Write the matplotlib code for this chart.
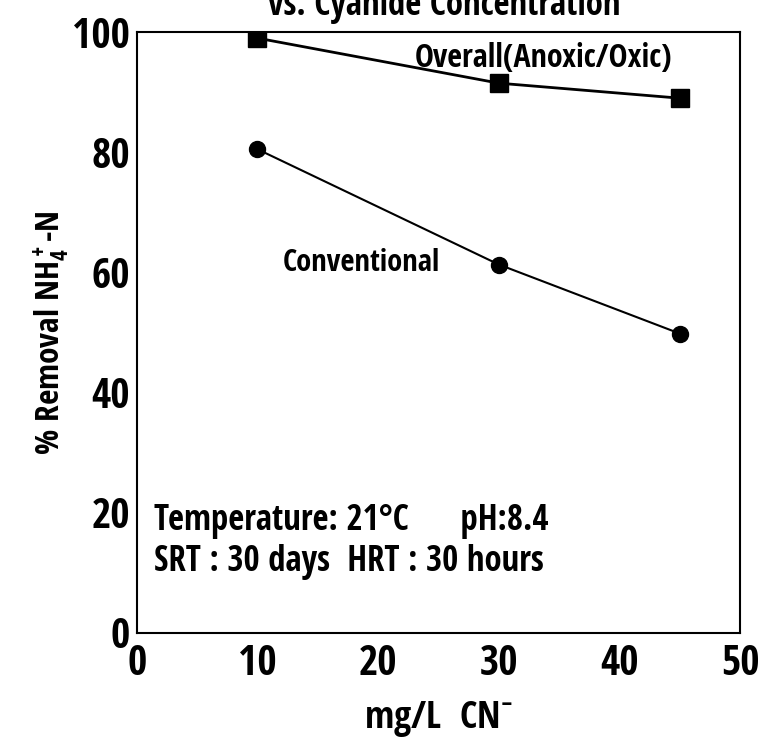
import matplotlib
matplotlib.use("Agg")
import matplotlib.pyplot as plt

# Daten
cn_conc = [10, 30, 45]
overall_removal = [99.0, 91.5, 89.0]        # Overall (Anoxic/Oxic)
conventional_removal = [80.5, 61.3, 49.8]   # Conventional
x_ticks = [0, 10, 20, 30, 40, 50]
y_ticks = [0, 20, 40, 60, 80, 100]

font = "Open Sans Condensed"
plt.rcParams["font.family"] = [font, "DejaVu Sans"]
plt.rcParams["font.weight"] = "bold"
plt.rcParams["font.stretch"] = "condensed"
plt.rcParams["mathtext.fontset"] = "custom"
plt.rcParams["mathtext.rm"] = font + ":bold"
plt.rcParams["mathtext.it"] = font + ":bold"
plt.rcParams["mathtext.bf"] = font + ":bold"
plt.rcParams["mathtext.default"] = "rm"

fig = plt.figure(figsize=(7.6, 7.47), dpi=100)
ax = fig.add_axes([0.180, 0.153, 0.794, 0.804])

ax.plot(cn_conc, overall_removal, color="black", lw=2, marker="s", ms=12.5)
ax.plot(cn_conc, conventional_removal, color="black", lw=1.5, marker="o", ms=11.5)

ax.set_xlim(0, 50)
ax.set_ylim(0, 100)
ax.set_xticks(x_ticks)
ax.set_yticks(y_ticks)
ax.tick_params(length=0, labelsize=30)
ax.tick_params(axis="x", pad=8)
ax.tick_params(axis="y", pad=5)
for s in ax.spines.values():
    s.set_linewidth(1.5)

ax.set_xlabel(r"mg/L  CN$^{-}$", fontsize=27, labelpad=10)
ax.set_ylabel(r"% Removal NH$_4^+$-N", fontsize=24)
ax.yaxis.set_label_coords(-0.108, 0.5)

# Titel ist oben abgeschnitten
fig.text(0.584, 1 - 15 / 747, "vs. Cyanide Concentration", ha="center", va="baseline", fontsize=25)

ax.text(23.0, 95.6, "Overall(Anoxic/Oxic)", fontsize=23, va="center")
ax.text(12.1, 61.6, "Conventional", fontsize=22, va="center")
ax.text(1.4, 18.6, "Temperature: 21°C      pH:8.4", fontsize=25, va="center")
ax.text(1.4, 11.7, "SRT : 30 days  HRT : 30 hours", fontsize=25, va="center")

fig.savefig("out.png", dpi=100)
